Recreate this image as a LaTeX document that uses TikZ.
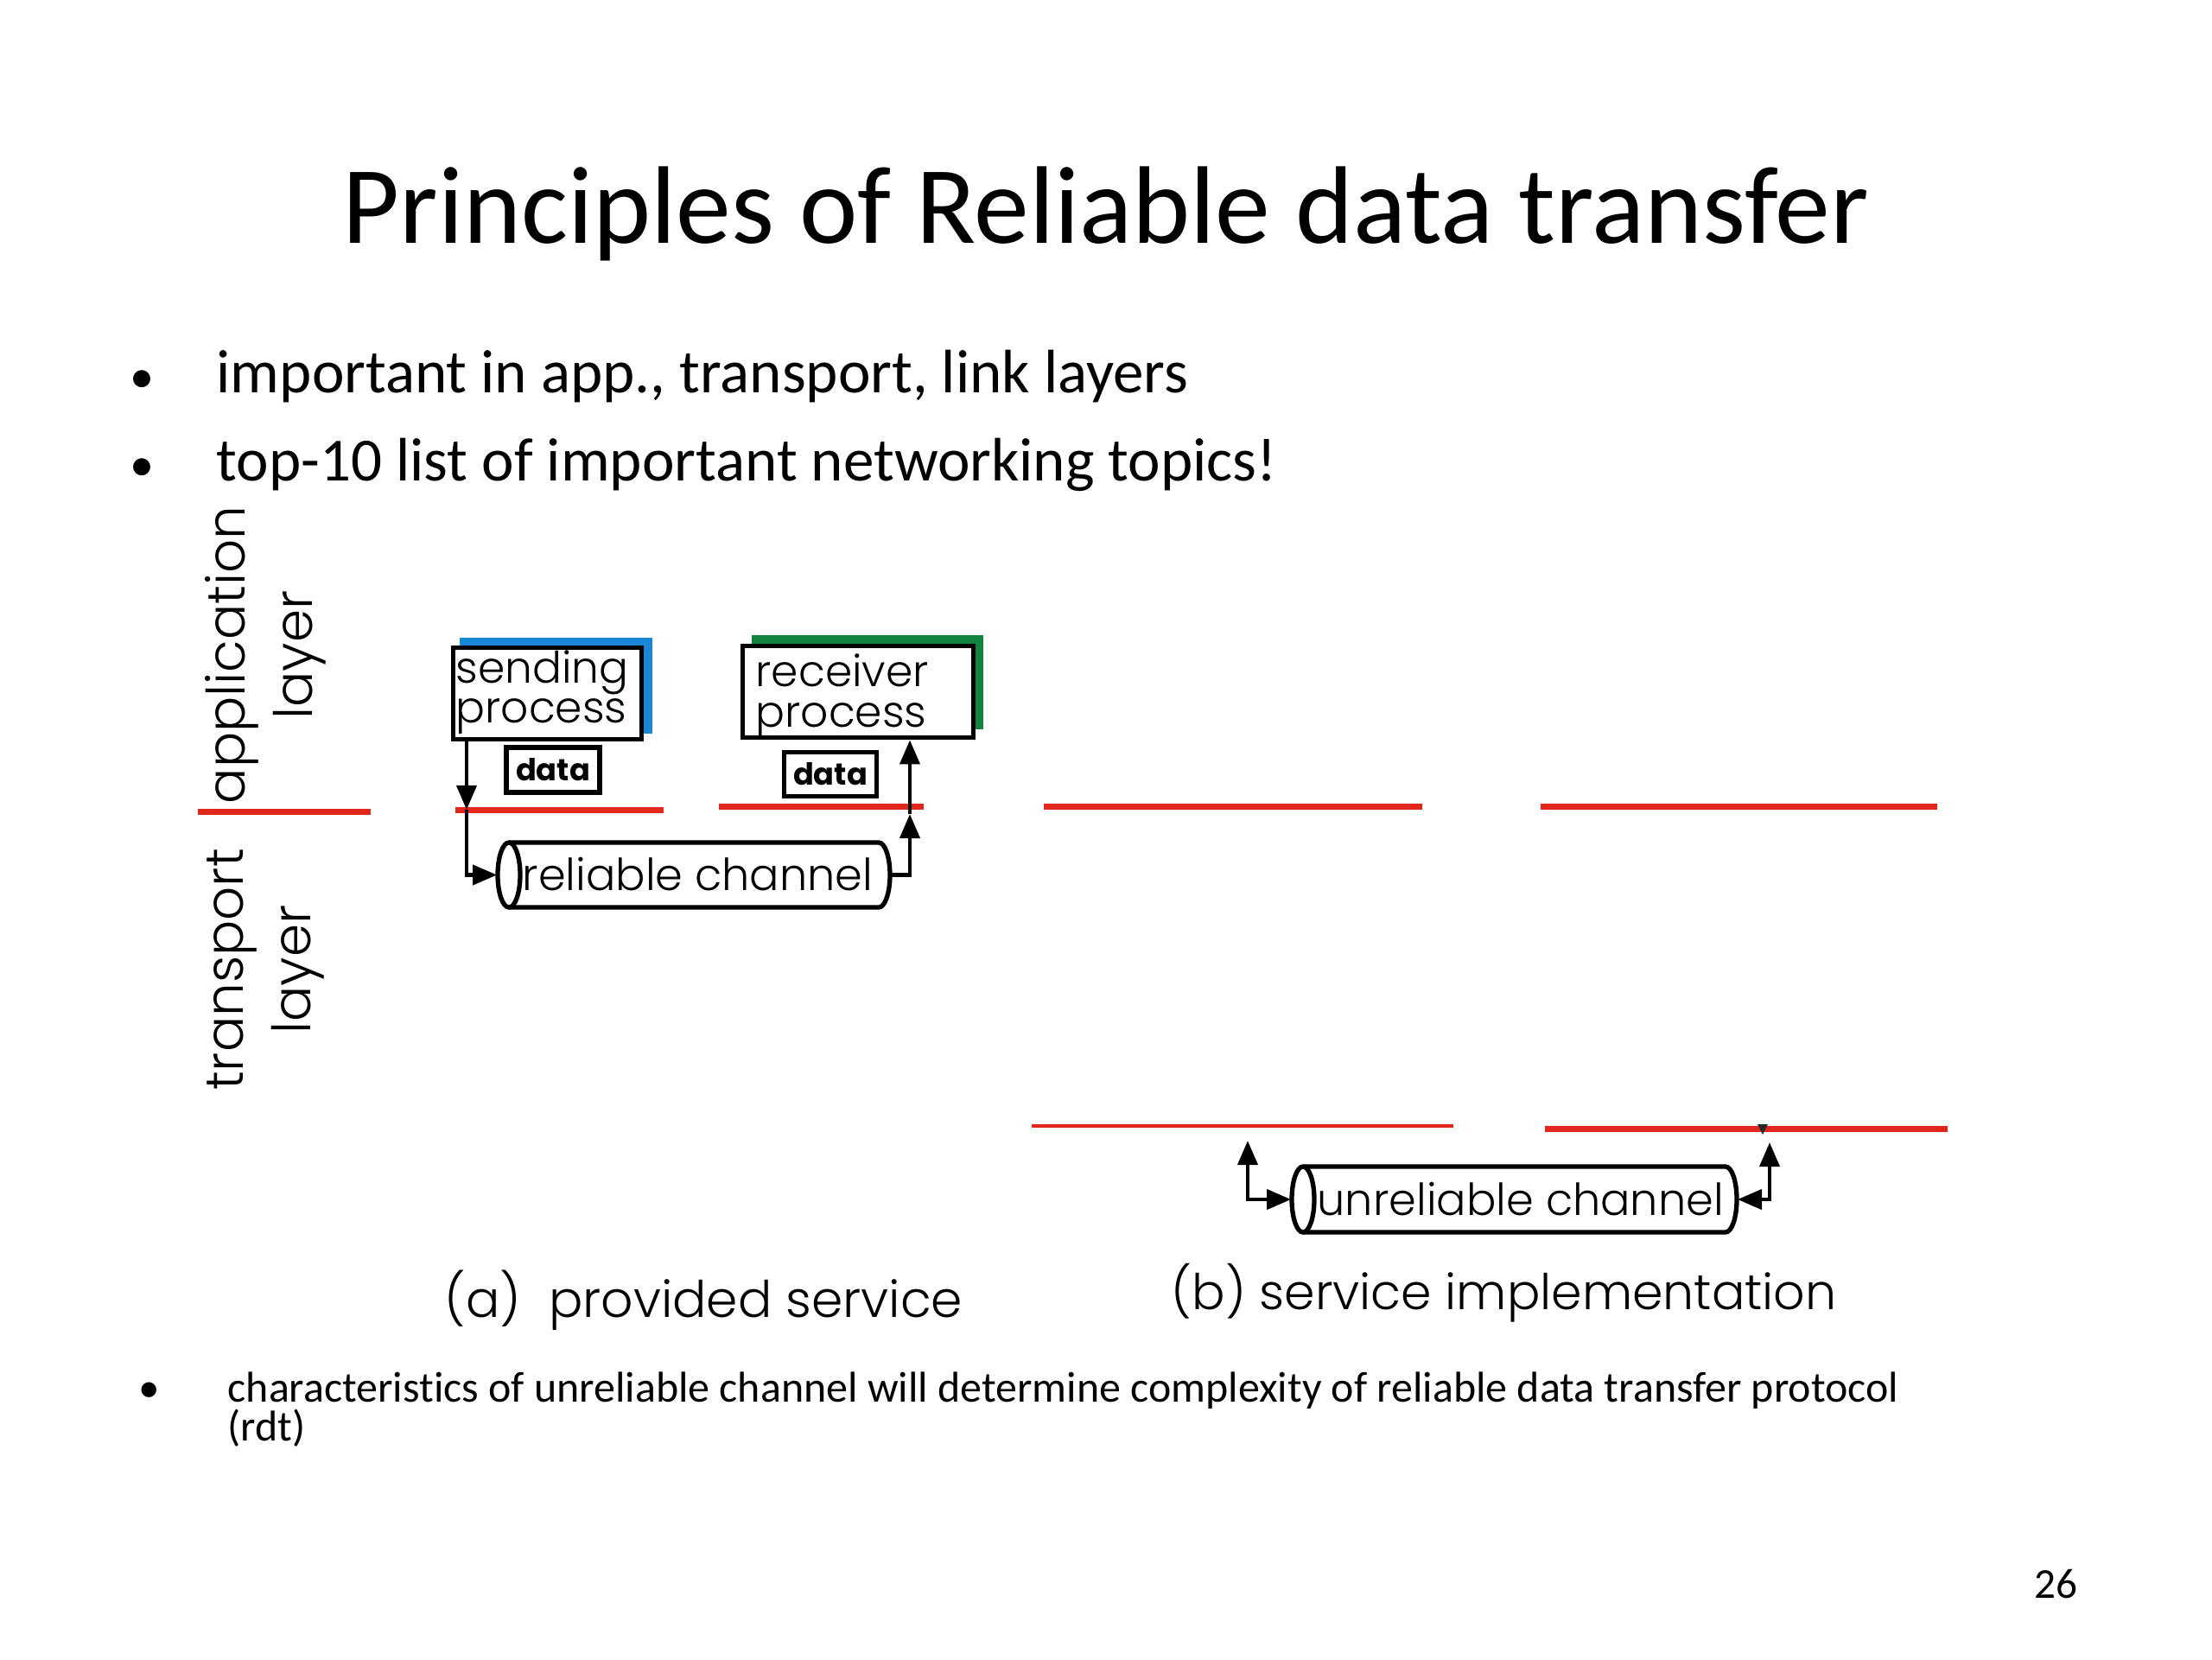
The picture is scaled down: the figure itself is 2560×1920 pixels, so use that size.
\documentclass[tikz,border=0pt]{standalone}
\usepackage{fontspec}
\setmainfont{Carlito}[Ligatures={NoCommon}]
\newfontfamily\gothic{Poppins}
\IfFontExistsTF{Poppins Light}{\newfontfamily\gothiclight{Poppins Light}}{\newfontfamily\gothiclight{Poppins}}
\usetikzlibrary{arrows.meta,calc}
\definecolor{slred}{HTML}{E1261C}
\definecolor{slblue}{HTML}{1A86D6}
\definecolor{slgreen}{HTML}{13843F}
\begin{document}
\begin{tikzpicture}[x=0.01cm,y=-0.01cm,
  redline/.style={draw=slred,line width=2pt},
  thinred/.style={draw=slred,line width=1.2pt},
  procbox/.style={draw=black,line width=1.5pt,fill=white,anchor=north west,inner sep=0pt},
  proctext/.style={anchor=base west,inner sep=0pt,font=\gothiclight\fontsize{14.3}{16}\selectfont},
  databox/.style={draw=black,line width=1.5pt,fill=white,inner sep=0pt,
    font=\gothic\bfseries\fontsize{10}{12}\selectfont},
  chan/.style={draw=black,line width=1.5pt},
  chantext/.style={inner sep=0pt,font=\gothiclight\fontsize{14.5}{17}\selectfont},
  arrowtip/.style={Triangle[length=8pt,width=6.5pt]},
  conn/.style={line width=1.3pt,-{Triangle[length=8pt,width=6.5pt]}},
  conn2/.style={line width=1.3pt,{Triangle[length=8pt,width=6.5pt]}-{Triangle[length=8pt,width=6.5pt]}},
  layerlabel/.style={rotate=90,align=center,font=\gothiclight\fontsize{17.4}{22.2}\selectfont},
  caption/.style={anchor=base west,inner sep=0pt},
  bullettext/.style={anchor=base west,inner sep=0pt,font=\fontsize{20.2}{24}\selectfont},
  bulletdot/.style={anchor=base,inner sep=0pt,font=\fontsize{16}{20}\selectfont},
]
\useasboundingbox (0,0) rectangle (2560,1920);
\fill[white] (0,0) rectangle (2560,1920);

% title and bullets
\node[anchor=base,inner sep=0pt,font=\fontsize{36.3}{43}\selectfont] (title) at (1280,281) {Principles of Reliable data transfer};
\node[bulletdot] (d1dot) at (165,454) {•};
\node[bullettext] (b1) at (250,454) {important in app., transport, link layers};
\node[bulletdot] (d2dot) at (165,556) {•};
\node[bullettext] (b2) at (250,556) {top-10 list of important networking topics!};

% layer labels
\node[layerlabel] (applab) at (307,758) {application\\layer};
\node[layerlabel] (translab) at (307,1122) {transport\\layer};

% red layer lines
\draw[redline] (229,939) -- (429,939);
\draw[redline] (527,937) -- (768,937);
\draw[redline] (832,933) -- (1069,933);
\draw[redline] (1208,933) -- (1646,933);
\draw[redline] (1783,933) -- (2242,933);
\draw[thinred] (1194,1303) -- (1682,1303);
\draw[redline] (1788,1306) -- (2254,1306);
\fill[black!85] (2034,1301) -- (2046,1301) -- (2040,1313) -- cycle;

% process boxes
\fill[slblue] (532,738) rectangle (755,849);
\node[procbox,minimum width=2.18cm,minimum height=1.06cm] (sp) at (522,747) {};
\node[proctext] (sptext1) at (527,790) {sending};
\node[proctext] (sptext2) at (527,836) {process};
\fill[slgreen] (870,735) rectangle (1138,844);
\node[procbox,minimum width=2.67cm,minimum height=1.06cm] (rp) at (857,745) {};
\node[proctext] (rptext1) at (874,794) {receiver};
\node[proctext] (rptext2) at (874,841) {process};

% data boxes
\node[databox,minimum width=1.08cm,minimum height=0.52cm] (data1) at (640,891) {data};
\node[databox,minimum width=1.07cm,minimum height=0.51cm] (data2) at (961,896) {data};

% reliable channel
\draw[chan] (589,975) -- (1017,975) arc[start angle=-90,end angle=90,x radius=13,y radius=37.5] -- (589,1050);
\draw[chan] (589,1012.5) ellipse [x radius=13,y radius=37.5];
\node[chantext,minimum width=4.54cm,minimum height=0.75cm] (ch) at (803,1012.5) {};
\node[chantext,anchor=base west] (chtext) at (604,1030) {reliable channel};

% unreliable channel
\draw[chan] (1508,1350) -- (1997,1350) arc[start angle=-90,end angle=90,x radius=13,y radius=38] -- (1508,1426);
\draw[chan] (1508,1388) ellipse [x radius=13,y radius=38];
\node[chantext,minimum width=5.15cm,minimum height=0.76cm] (uch) at (1752.5,1388) {};
\node[chantext,anchor=base west] (uchtext) at (1524,1406) {unreliable channel};

% connectors (a)
\coordinate (sA) at ($(sp.south west)+(18,0)$);
\coordinate (rA) at (540,937);
\draw[conn] (sA) -- (rA);
\draw[conn] (rA) |- (ch.west);
\coordinate (rB) at (1053,942);
\draw[conn] (ch.east) -| (rB);
\draw[conn] (rB) -- (rB |- rp.south);

% connectors (b)
\coordinate (uL) at (1444,1320);
\coordinate (uR) at (2048,1322);
\draw[conn2] (uL) |- (uch.west);
\draw[conn2] (uR) |- (uch.east);

% captions
\node[caption,font=\gothiclight\fontsize{16.6}{20}\selectfont] (capa) at (514,1524) {(a)\ \ provided service};
\node[caption,font=\gothiclight\fontsize{16.2}{20}\selectfont] (capb) at (1355,1515) {(b) service implementation};

% bottom bullet
\node[anchor=base,inner sep=0pt,font=\fontsize{14}{13}\selectfont] (d3dot) at (173,1622) {•};
\node[anchor=base west,inner sep=0pt,font=\fontsize{14.2}{13}\selectfont] (b3) at (263,1622) {characteristics of unreliable channel will determine complexity of reliable data transfer protocol};
\node[anchor=base west,inner sep=0pt,font=\fontsize{14.2}{13}\selectfont] (b3b) at (263,1667) {(rdt)};

% page number
\node[anchor=base east,font=\fontsize{14}{17}\selectfont,inner sep=0pt] (pnum) at (2405,1849) {26};
\end{tikzpicture}
\end{document}
